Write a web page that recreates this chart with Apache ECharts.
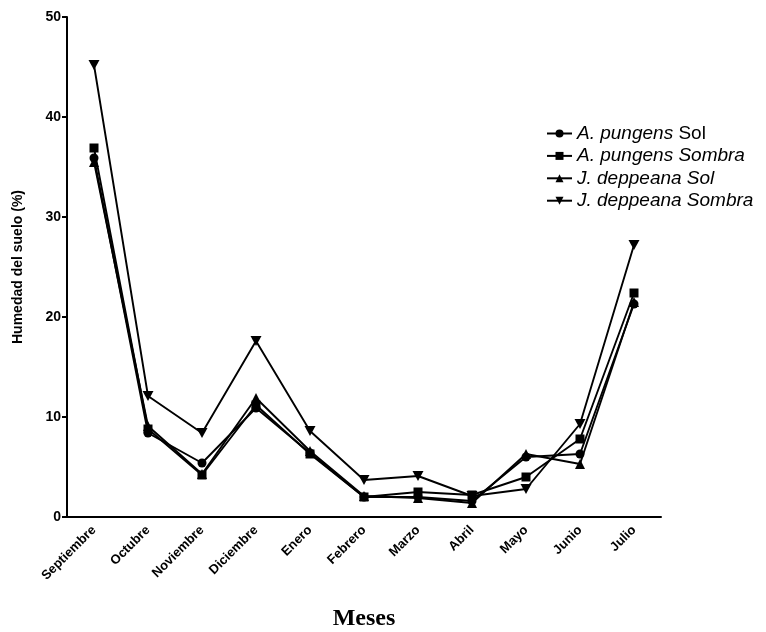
<!DOCTYPE html>
<html>
<head>
<meta charset="utf-8">
<script src="https://cdn.jsdelivr.net/npm/echarts@6/dist/echarts.min.js"></script>
<style>
  html, body { margin: 0; padding: 0; background: #fff; }
  #chart { width: 766px; height: 632px; }
</style>
</head>
<body>
<div id="chart"></div>
<script>
// Months of the sampling period
const meses = ['Septiembre', 'Octubre', 'Noviembre', 'Diciembre', 'Enero', 'Febrero',
               'Marzo', 'Abril', 'Mayo', 'Junio', 'Julio'];

// Soil moisture (%) for each species and exposure
const aPungensSol    = [35.9, 8.4, 5.4, 10.9, 6.4, 2.0, 2.0, 1.6, 6.0, 6.3, 21.3];
const aPungensSombra = [36.9, 8.8, 4.2, 11.2, 6.3, 2.0, 2.5, 2.2, 4.0, 7.8, 22.4];
const jDeppeanaSol   = [35.5, 9.1, 4.3, 11.9, 6.6, 2.1, 1.9, 1.4, 6.3, 5.3, 21.5];
const jDeppeanaSombra= [45.2, 12.1, 8.4, 17.6, 8.6, 3.7, 4.1, 2.1, 2.8, 9.3, 27.2];

// Y axis ticks
const yTicks = [0, 10, 20, 30, 40, 50];

const downTriangle = 'path://M0,0L20,0L10,17Z';
const sans = 'Liberation Sans, Arial, sans-serif';

function serie(name, data, symbol, size) {
  return {
    name: name,
    type: 'line',
    data: data,
    symbol: symbol,
    symbolSize: size,
    showAllSymbol: true,
    lineStyle: { color: '#000', width: 1.9 },
    itemStyle: { color: '#000', borderWidth: 0 },
    emphasis: { disabled: true },
    animation: false
  };
}

const chart = echarts.init(document.getElementById('chart'), null, { renderer: 'canvas' });

chart.setOption({
  backgroundColor: '#fff',
  animation: false,
  grid: { left: 67, top: 17, right: 105, bottom: 115, containLabel: false, outerBoundsMode: 'none' },
  legend: {
    orient: 'vertical',
    left: 541,
    top: 119,
    itemWidth: 25,
    itemHeight: 10,
    itemGap: 3.4,
    data: ['A. pungens Sol', 'A. pungens Sombra', 'J. deppeana Sol', 'J. deppeana Sombra'],
    formatter: function (name) {
      if (name === 'A. pungens Sol') return '{i|A. pungens} {n|Sol}';
      return '{i|' + name + '}';
    },
    textStyle: {
      color: '#000',
      fontFamily: sans,
      fontSize: 19,
      lineHeight: 19,
      rich: {
        i: { fontStyle: 'italic', fontSize: 19, lineHeight: 19, color: '#000', fontFamily: sans },
        n: { fontStyle: 'normal', fontSize: 19, lineHeight: 19, color: '#000', fontFamily: sans }
      }
    }
  },
  xAxis: {
    type: 'category',
    data: meses,
    boundaryGap: true,
    name: 'Meses',
    nameLocation: 'middle',
    nameGap: 90,
    nameTextStyle: {
      color: '#000',
      fontFamily: 'Liberation Serif, Times New Roman, serif',
      fontWeight: 'bold',
      fontSize: 24
    },
    axisLine: { lineStyle: { color: '#000', width: 2 } },
    axisTick: { alignWithLabel: true, length: 5, lineStyle: { color: '#000', width: 2 } },
    axisLabel: {
      rotate: 45,
      interval: 0,
      margin: 11,
      color: '#000',
      fontFamily: sans,
      fontWeight: 'bold',
      fontSize: 13
    },
    splitLine: { show: false }
  },
  yAxis: {
    type: 'value',
    min: yTicks[0],
    max: yTicks[yTicks.length - 1],
    interval: 10,
    name: 'Humedad del suelo (%)',
    nameLocation: 'middle',
    nameGap: 42,
    nameTextStyle: {
      color: '#000',
      fontFamily: sans,
      fontWeight: 'bold',
      fontSize: 14
    },
    axisLine: { show: true, lineStyle: { color: '#000', width: 2 } },
    axisTick: { show: true, length: 5, lineStyle: { color: '#000', width: 2 } },
    axisLabel: {
      margin: 6,
      color: '#000',
      fontFamily: sans,
      fontWeight: 'bold',
      fontSize: 14
    },
    splitLine: { show: false }
  },
  series: [
    serie('A. pungens Sol', aPungensSol, 'circle', 9),
    serie('A. pungens Sombra', aPungensSombra, 'rect', 9),
    serie('J. deppeana Sol', jDeppeanaSol, 'triangle', 10),
    serie('J. deppeana Sombra', jDeppeanaSombra, downTriangle, [11, 10])
  ]
});
</script>
</body>
</html>
